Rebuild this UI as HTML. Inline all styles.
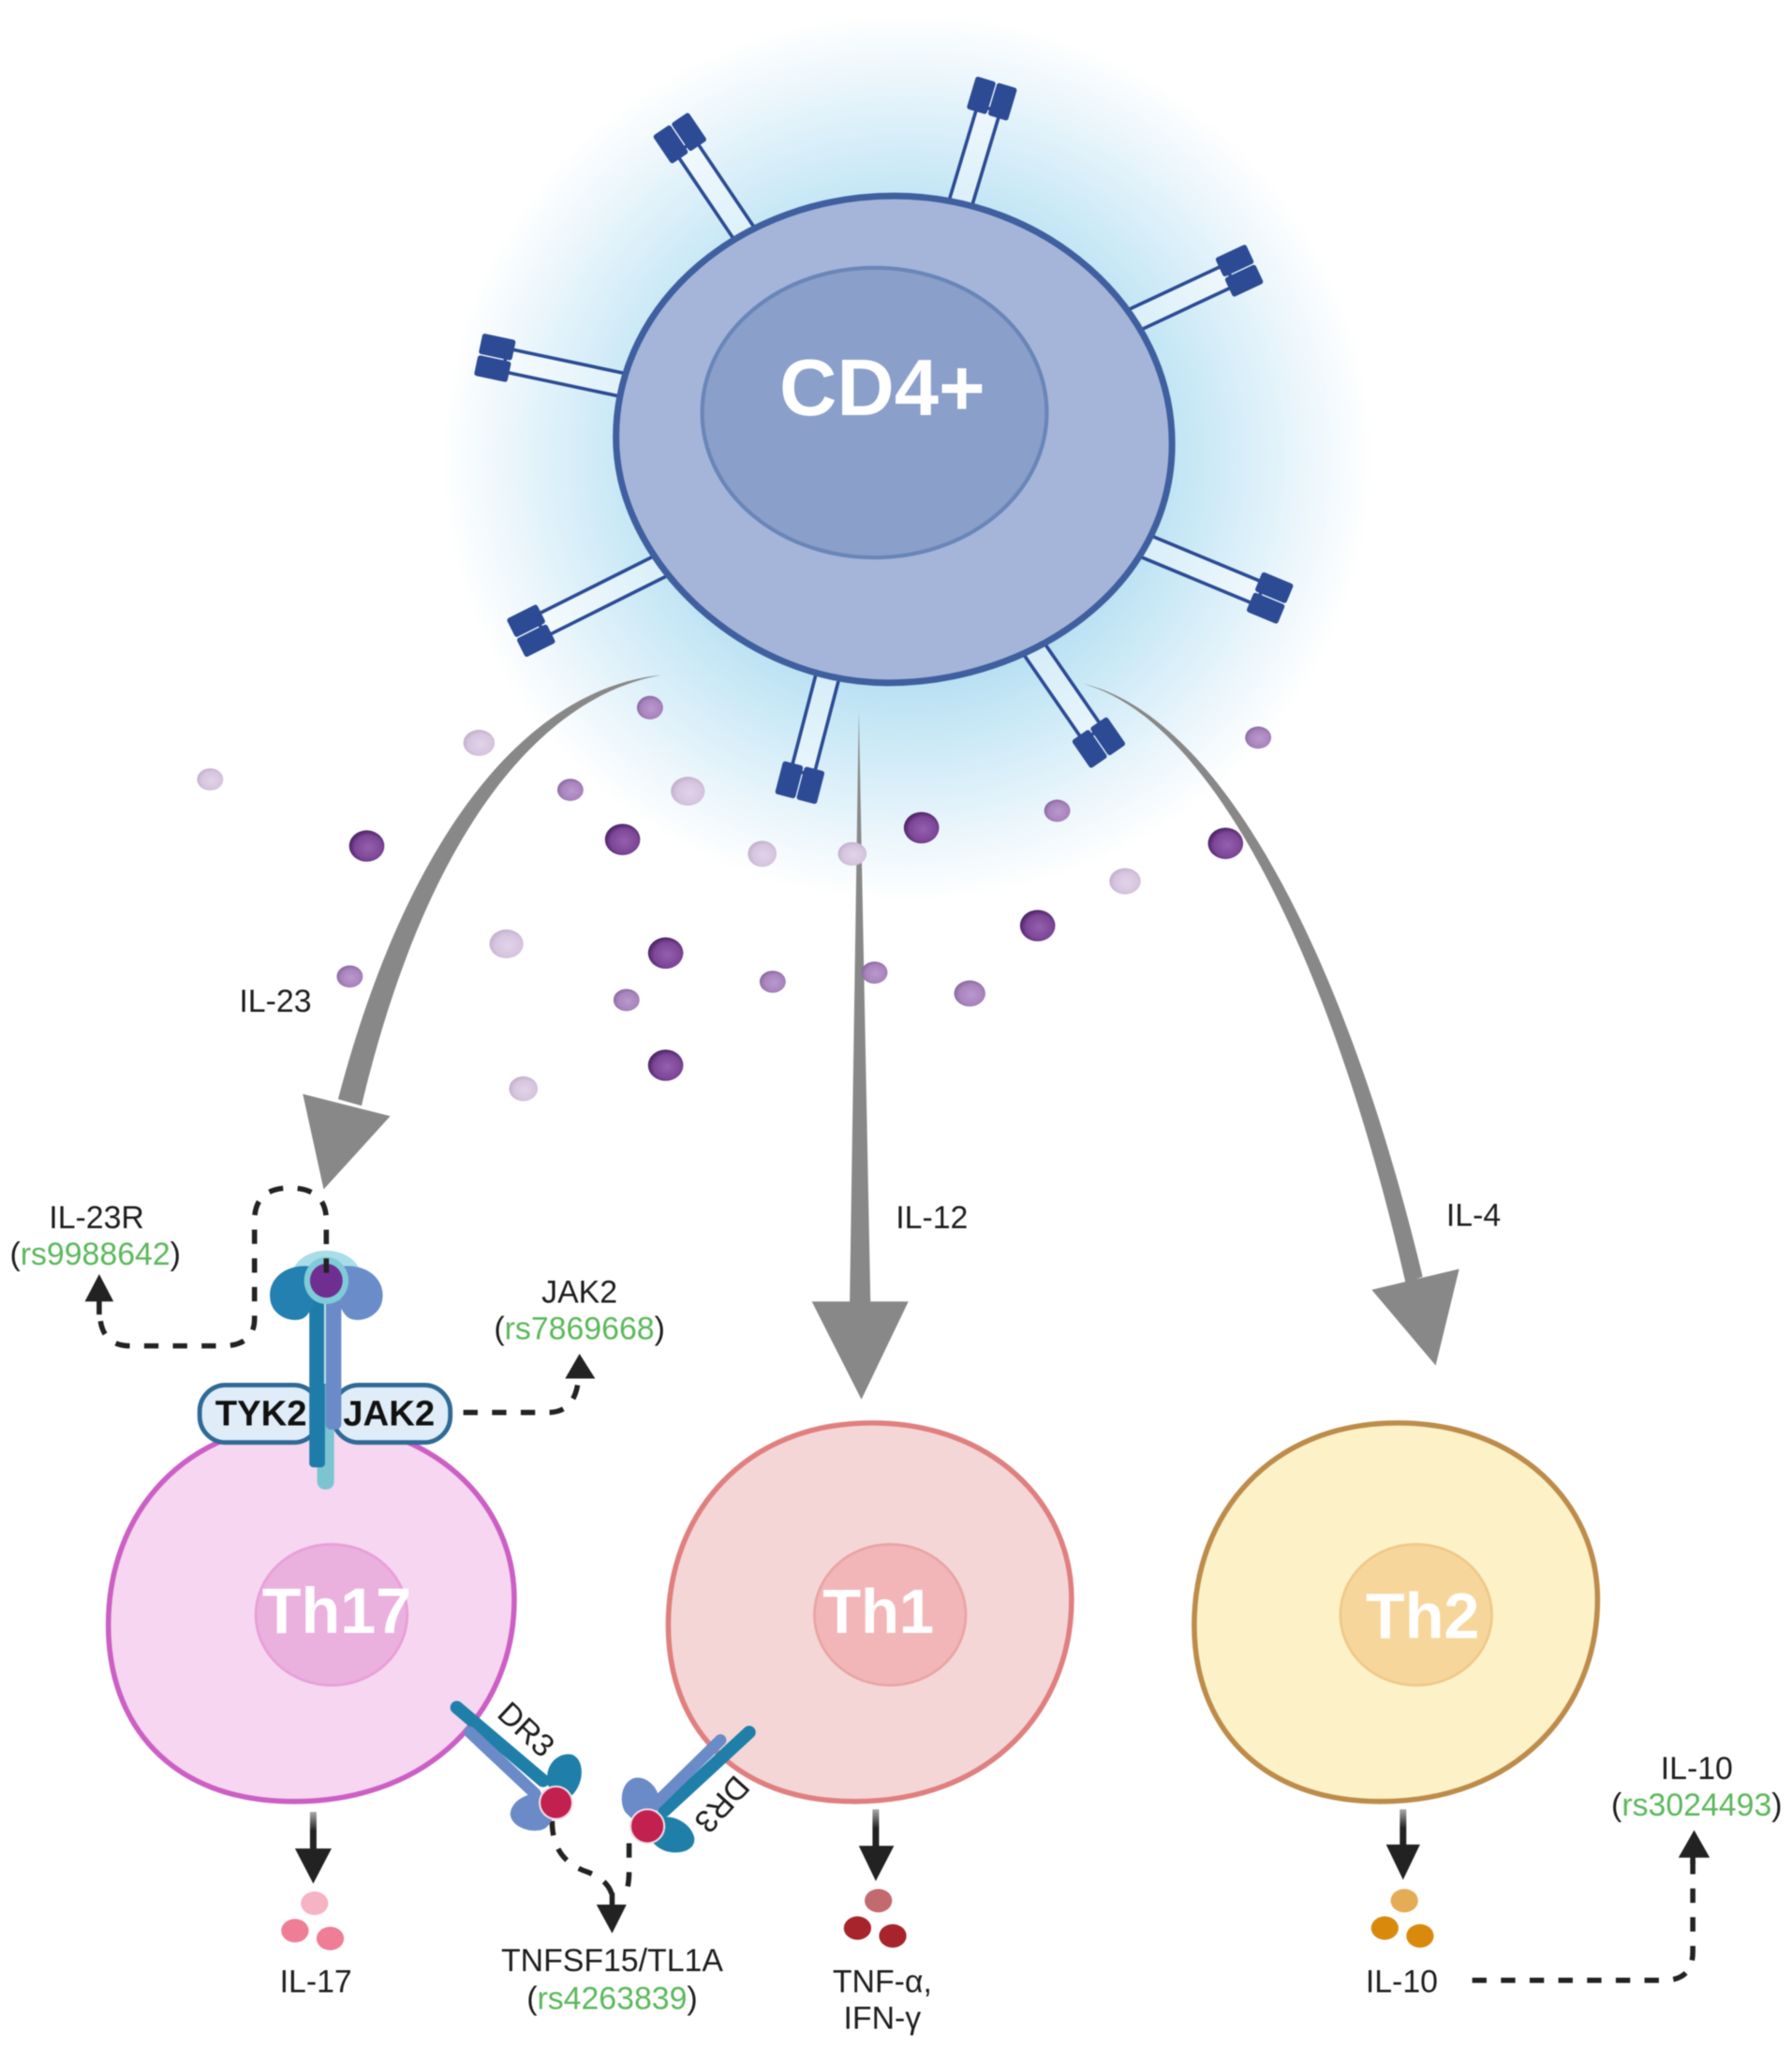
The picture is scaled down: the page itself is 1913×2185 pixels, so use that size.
<!DOCTYPE html>
<html><head><meta charset="utf-8"><style>
html,body{margin:0;padding:0;background:#fff}
svg{display:block;filter:blur(.6px)}
text{font-family:"Liberation Sans",sans-serif;fill:#1e1e1e;text-anchor:middle}
.l{font-size:24.3px}
.w{fill:#fff;font-weight:bold}
.d{fill:none;stroke:#222;stroke-width:4;stroke-dasharray:11 11}
.r path{fill:#ffffff;fill-opacity:.4;stroke:#2c4b94;stroke-width:2.600}
.r rect{fill:#2c4b94}
</style></head><body>
<svg xmlns="http://www.w3.org/2000/svg" width="1913" height="2185" viewBox="0 0 1373 1568">
<defs>
<radialGradient id="glow" cx="50%" cy="50%" r="50%">
<stop offset="0" stop-color="#b0dcf1"/><stop offset=".45" stop-color="#b0dcf1"/><stop offset=".62" stop-color="#c8e8f6"/><stop offset=".82" stop-color="#e6f4fb"/><stop offset="1" stop-color="#fff"/>
</radialGradient>
<radialGradient id="pd" cx="55%" cy="55%" r="55%"><stop offset="0" stop-color="#9560ae"/><stop offset=".7" stop-color="#7d4697"/><stop offset="1" stop-color="#4a2363"/></radialGradient>
<radialGradient id="pm" cx="55%" cy="55%" r="55%"><stop offset="0" stop-color="#bb98cf"/><stop offset=".7" stop-color="#a984bd"/><stop offset="1" stop-color="#8a6a9f"/></radialGradient>
<radialGradient id="pp" cx="55%" cy="55%" r="55%"><stop offset="0" stop-color="#e2d3ea"/><stop offset=".7" stop-color="#d6c5de"/><stop offset="1" stop-color="#c3b1cd"/></radialGradient>
<linearGradient id="sh" x1="0" y1="0" x2="0" y2="1"><stop offset="0" stop-color="#aaa"/><stop offset=".45" stop-color="#222"/><stop offset="1" stop-color="#222"/></linearGradient>
</defs>
<rect width="1373" height="1568" fill="#fff"/>
<ellipse cx="695" cy="350" rx="356" ry="340" fill="url(#glow)"/>

<!-- receptors -->
<g class="r">
<g transform="translate(569,177) rotate(-34)"><path d="M-9 15V-78H9V15Z"/><rect x="-16.500" y="-99" width="16" height="26" rx="2"/><rect x=".5" y="-99" width="16" height="26" rx="2"/></g>
<g transform="translate(737,152) rotate(16.700)"><path d="M-9 15V-72H9V15Z"/><rect x="-16.500" y="-93" width="16" height="26" rx="2"/><rect x=".5" y="-93" width="16" height="26" rx="2"/></g>
<g transform="translate(869,245) rotate(64.900)"><path d="M-9 15V-81H9V15Z"/><rect x="-16.500" y="-102" width="16" height="26" rx="2"/><rect x=".5" y="-102" width="16" height="26" rx="2"/></g>
<g transform="translate(877,418) rotate(112.600)"><path d="M-9 15V-96H9V15Z"/><rect x="-16.500" y="-117" width="16" height="26" rx="2"/><rect x=".5" y="-117" width="16" height="26" rx="2"/></g>
<g transform="translate(793,498) rotate(145.400)"><path d="M-9 15V-78H9V15Z"/><rect x="-16.500" y="-99" width="16" height="26" rx="2"/><rect x=".5" y="-99" width="16" height="26" rx="2"/></g>
<g transform="translate(633,522) rotate(194.600)"><path d="M-9 15V-72H9V15Z"/><rect x="-16.500" y="-93" width="16" height="26" rx="2"/><rect x=".5" y="-93" width="16" height="26" rx="2"/></g>
<g transform="translate(499,437) rotate(-116.600)"><path d="M-9 15V-95H9V15Z"/><rect x="-16.500" y="-116" width="16" height="26" rx="2"/><rect x=".5" y="-116" width="16" height="26" rx="2"/></g>
<g transform="translate(478,295) rotate(-78)"><path d="M-9 15V-93H9V15Z"/><rect x="-16.500" y="-114" width="16" height="26" rx="2"/><rect x=".5" y="-114" width="16" height="26" rx="2"/></g>
</g>

<!-- CD4 cell -->
<path d="M685 150C800 150 898 235 898 340C898 450 790 523 680 523C570 523 472 430 472 335C472 230 570 150 685 150Z" fill="#a4b5d9" stroke="#3f5f9f" stroke-width="5"/>
<ellipse cx="670" cy="316" rx="132" ry="111" fill="#8a9fc9" stroke="#6a86b8" stroke-width="3"/>
<text x="676" y="318" class="w" style="font-size:61px">CD4+</text>

<!-- gray arrows -->
<g fill="#888">
<path d="M507 517C405 527 313 637 259 842L277 847C325 645 410 534 507 517Z"/>
<path d="M232 838L299 855L248 911Z"/>
<path d="M658 545L651 1000L667 1000Z"/>
<path d="M622 997L696 997L660 1072Z"/>
<path d="M827 523C933 545 1030 728 1090 978L1077 983C1020 733 928 548 827 523Z"/>
<path d="M1051 988L1118 972L1100 1046Z"/>
</g>

<!-- particles -->
<g fill="url(#pd)">
<ellipse cx="281" cy="648" rx="13.500" ry="12"/><ellipse cx="477" cy="643" rx="13.500" ry="12"/><ellipse cx="706" cy="634" rx="13.500" ry="12"/><ellipse cx="939" cy="646" rx="13.500" ry="12"/><ellipse cx="795" cy="709" rx="13.500" ry="12"/><ellipse cx="510" cy="730" rx="13.500" ry="12"/><ellipse cx="510" cy="816" rx="13.500" ry="12"/>
</g>
<g fill="url(#pm)">
<ellipse cx="498" cy="542" rx="10" ry="9"/><ellipse cx="437" cy="605" rx="10" ry="8.500"/><ellipse cx="810" cy="621" rx="10" ry="8.500"/><ellipse cx="964" cy="565" rx="10" ry="8.500"/><ellipse cx="268" cy="748" rx="10" ry="8.500"/><ellipse cx="480" cy="766" rx="10" ry="8.500"/><ellipse cx="592" cy="752" rx="10" ry="8.500"/><ellipse cx="670" cy="745" rx="10" ry="8.500"/><ellipse cx="743" cy="761" rx="12" ry="10"/>
</g>
<g fill="url(#pp)">
<ellipse cx="161" cy="597" rx="10" ry="8.500"/><ellipse cx="367" cy="569" rx="12" ry="10"/><ellipse cx="527" cy="606" rx="13" ry="11"/><ellipse cx="584" cy="654" rx="11" ry="10"/><ellipse cx="653" cy="654" rx="11" ry="9"/><ellipse cx="862" cy="675" rx="12" ry="10"/><ellipse cx="388" cy="723" rx="13" ry="11"/><ellipse cx="401" cy="834" rx="11" ry="9.500"/>
</g>

<!-- Cells -->
<path d="M240 1090C330 1090 394 1150 394 1225C394 1310 330 1380 225 1380C130 1380 83 1320 83 1245C83 1160 140 1090 240 1090Z" fill="#f6d6f0" stroke="#cc5fc4" stroke-width="4"/>
<ellipse cx="254" cy="1237" rx="58" ry="54" fill="#eab0de" stroke="#e8a0d8" stroke-width="2"/>
<text x="258" y="1251" class="w" style="font-size:49px">Th17</text>

<path d="M668 1090C758 1090 821 1150 821 1225C821 1310 758 1380 655 1380C560 1380 512 1320 512 1245C512 1160 570 1090 668 1090Z" fill="#f5d6d6" stroke="#e07f80" stroke-width="4"/>
<ellipse cx="682" cy="1237" rx="58" ry="54" fill="#f2b6b8" stroke="#e9a5a5" stroke-width="2"/>
<text x="673" y="1251" class="w" style="font-size:48px">Th1</text>

<path d="M1071 1090C1161 1090 1224 1150 1224 1225C1224 1310 1161 1380 1058 1380C963 1380 915 1320 915 1245C915 1160 973 1090 1071 1090Z" fill="#fdf1c7" stroke="#bd8c4a" stroke-width="4"/>
<ellipse cx="1085" cy="1237" rx="58" ry="54" fill="#f7d69c" stroke="#efc98a" stroke-width="2"/>
<text x="1090" y="1255" class="w" style="font-size:49px">Th2</text>

<!-- pills -->
<rect x="153" y="1061" width="92" height="44" rx="20" fill="#e0edf8" stroke="#2f6a97" stroke-width="3.500"/>
<rect x="255" y="1061" width="90" height="44" rx="20" fill="#e0edf8" stroke="#2f6a97" stroke-width="3.500"/>
<text x="200" y="1092" style="font-size:27.500px;font-weight:bold;fill:#111">TYK2</text>
<text x="298" y="1092" style="font-size:27.500px;font-weight:bold;fill:#111">JAK2</text>

<!-- IL-23R receptor -->
<rect x="243" y="1060" width="13" height="81" rx="6" fill="#7cc4d2"/>
<rect x="237" y="995" width="12" height="129" rx="3" fill="#1f7ba8"/>
<rect x="249.500" y="995" width="12" height="100" rx="4" fill="#6b8ac8"/>
<path d="M249 996V1060" stroke="#b9e2ea" stroke-width="1.500"/>
<ellipse cx="250" cy="977" rx="26" ry="19" fill="#a9dde8"/>
<path d="M238 970C216 968 205 982 207 995C208 1007 222 1014 232 1010C236 1008 238 1003 240 1000Z" fill="#2480b0"/>
<path d="M262 970C284 968 295 982 293 995C292 1007 278 1014 268 1010C264 1008 262 1003 260 1000Z" fill="#6a8dc9"/>
<ellipse cx="250" cy="981" rx="17" ry="18" fill="#7fcbd8"/>
<ellipse cx="250" cy="981" rx="12.500" ry="13" fill="#6f2f90"/>

<!-- dashed -->
<path class="d" d="M250 975V935Q250 910 222 910Q195 910 195 935V1010Q195 1031 170 1031H100Q80 1031 77 1012"/>
<path d="M76 976L65 997H87Z" fill="#222"/><path d="M76 990V1007" stroke="#222" stroke-width="4"/>
<path class="d" d="M355 1082H420Q440 1082 443 1058"/>
<path d="M444 1037L433 1056H456Z" fill="#222"/>
<path class="d" d="M423 1395Q423 1425 450 1434Q466 1440 469 1452"/>
<path class="d" d="M482 1412V1432Q482 1446 479 1450"/>
<path class="d" d="M1128 1517H1275Q1297 1517 1297 1495V1425"/>
<path d="M1298 1402L1286 1423H1310Z" fill="#222"/><path d="M1297 1420V1428" stroke="#222" stroke-width="4"/>
<path d="M469 1450V1462" stroke="#222" stroke-width="4"/><path d="M457 1459H480L469 1481Z" fill="#222"/>

<!-- DR3 -->
<path d="M350 1308L416 1364" stroke="#1f7fa8" stroke-width="10" stroke-linecap="round"/>
<path d="M360 1327L410 1374" stroke="#6b8ac8" stroke-width="9" stroke-linecap="round"/>
<path d="M420 1368C416 1352 428 1342 438 1344C447 1347 448 1362 441 1372C437 1378 432 1378 428 1376Z" fill="#1f7fa8"/>
<path d="M418 1374C404 1372 391 1380 391 1390C392 1400 408 1405 417 1401C422 1398 424 1392 424 1388Z" fill="#6b8ac8"/>
<circle cx="426" cy="1381" r="12.500" fill="#c2204f" stroke="#f2dde6" stroke-width="1.500"/>
<text x="403" y="1333" class="l" transform="rotate(43 403 1325)">DR3</text>

<path d="M574 1327L509 1387" stroke="#1f7fa8" stroke-width="10" stroke-linecap="round"/>
<path d="M552 1333L503 1381" stroke="#6b8ac8" stroke-width="9" stroke-linecap="round"/>
<path d="M506 1384C506 1370 496 1360 486 1362C476 1365 474 1380 479 1388C484 1394 490 1398 496 1396Z" fill="#6b8ac8"/>
<path d="M506 1392C518 1390 530 1398 532 1408C533 1418 520 1421 510 1418C504 1416 500 1412 498 1408Z" fill="#1f7fa8"/>
<circle cx="496" cy="1399" r="13" fill="#c2204f" stroke="#f2dde6" stroke-width="1.500"/>
<text x="553" y="1390" class="l" transform="rotate(132 553 1382)">DR3</text>

<!-- solid arrows -->
<g stroke="none">
<rect x="237.500" y="1388" width="5" height="32" fill="url(#sh)"/><path d="M226 1416H254L240 1443Z" fill="#222"/>
<rect x="668.500" y="1386" width="5" height="32" fill="url(#sh)"/><path d="M658 1414H685L671 1441Z" fill="#222"/>
<rect x="1072.500" y="1386" width="5" height="32" fill="url(#sh)"/><path d="M1062 1413H1088L1075 1440Z" fill="#222"/>
</g>

<!-- cytokines -->
<ellipse cx="241" cy="1458" rx="10.500" ry="9" fill="#f5b3c4"/><ellipse cx="226" cy="1479" rx="10.500" ry="9" fill="#ee7d95"/><ellipse cx="253" cy="1485" rx="10.500" ry="9" fill="#ee7d95"/>
<ellipse cx="673" cy="1456" rx="10.500" ry="9" fill="#c26a6e"/><ellipse cx="657" cy="1477" rx="10.500" ry="9" fill="#a8242c"/><ellipse cx="684" cy="1483" rx="10.500" ry="9" fill="#a8242c"/>
<ellipse cx="1076" cy="1456" rx="10.500" ry="9" fill="#e5ac56"/><ellipse cx="1061" cy="1477" rx="10.500" ry="9" fill="#d98a0d"/><ellipse cx="1088" cy="1483" rx="10.500" ry="9" fill="#d98a0d"/>

<!-- labels -->
<text x="211" y="775" class="l">IL-23</text>
<text x="714" y="941" class="l">IL-12</text>
<text x="1129" y="939" class="l">IL-4</text>
<text x="74" y="941" class="l">IL-23R</text>
<text x="73" y="969" class="l">(<tspan style="fill:#5cb85c">rs9988642</tspan>)</text>
<text x="444" y="998" class="l">JAK2</text>
<text x="444" y="1026" class="l">(<tspan style="fill:#5cb85c">rs7869668</tspan>)</text>
<text x="1300" y="1363" class="l">IL-10</text>
<text x="1300" y="1391" class="l">(<tspan style="fill:#5cb85c">rs3024493</tspan>)</text>
<text x="242" y="1526" class="l">IL-17</text>
<text x="1074" y="1526" class="l">IL-10</text>
<text x="469" y="1510" class="l">TNFSF15/TL1A</text>
<text x="469" y="1539" class="l">(<tspan style="fill:#5cb85c">rs4263839</tspan>)</text>
<text x="676" y="1526" class="l">TNF-α,</text>
<text x="676" y="1554" class="l">IFN-γ</text>
</svg>
</body></html>
